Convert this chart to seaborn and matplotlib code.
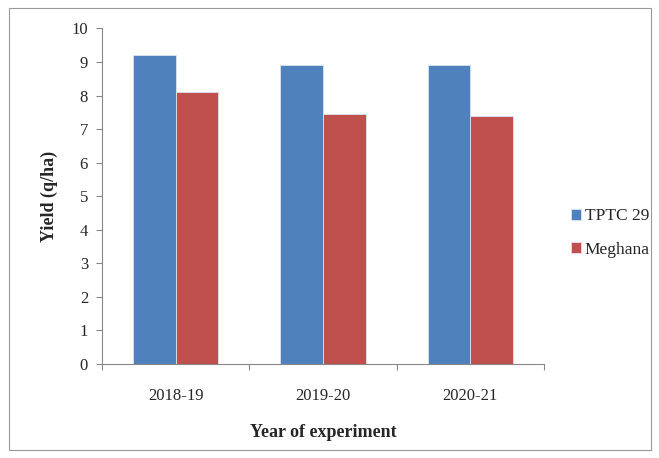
import matplotlib
matplotlib.use("Agg")
import matplotlib.pyplot as plt
import seaborn as sns
import pandas as pd
from matplotlib.patches import Rectangle

years = ["2018-19", "2019-20", "2020-21"]
tptc29 = [9.2, 8.9, 8.9]
meghana = [8.1, 7.45, 7.4]
varieties = ["TPTC 29", "Meghana"]
colors = ["#4F81BD", "#C0504D"]

df = pd.DataFrame({
    "Year": years * 2,
    "Yield": tptc29 + meghana,
    "Variety": [varieties[0]] * 3 + [varieties[1]] * 3,
})

sns.set_style("white")
plt.rcParams["font.family"] = ["Liberation Serif", "DejaVu Serif"]

fig = plt.figure(figsize=(6.59, 4.58), dpi=100)
ax = fig.add_axes([102 / 659, 1 - 364 / 458, (544 - 102) / 659, (364 - 28.5) / 458])

sns.barplot(data=df, x="Year", y="Yield", hue="Variety", palette=colors,
            saturation=1, width=0.58, ax=ax, edgecolor="#dbe4f0",
            linewidth=0.6, legend=True)

ax.set_ylim(0, 10)
ax.set_xlim(-0.5, 2.5)
ax.set_yticks(range(0, 11))
ax.tick_params(axis="y", labelsize=12, length=4, width=0.8, color="#888888",
               direction="out", left=True, pad=6)
ax.set_xticks([0, 1, 2])
ax.set_xticks([-0.5, 0.5, 1.5, 2.5], minor=True)
ax.tick_params(axis="x", which="major", length=0, labelsize=12, pad=17)
ax.tick_params(axis="x", which="minor", length=4, width=0.8, color="#888888",
               direction="out", bottom=True)

for s in ["top", "right"]:
    ax.spines[s].set_visible(False)
for s in ["left", "bottom"]:
    ax.spines[s].set_color("#888888")
    ax.spines[s].set_linewidth(0.8)

ax.set_xlabel("Year of experiment", fontsize=13, fontweight="bold", labelpad=15)
ax.set_ylabel("Yield (q/ha)", fontsize=13, fontweight="bold", labelpad=10)

leg = ax.legend(loc="center left", bbox_to_anchor=(1.025, 0.39), frameon=False,
                fontsize=12.5, handlelength=0.6, handleheight=0.6,
                handletextpad=0.2, labelspacing=1.0)

# outer frame around the chart area
fig.patches.append(Rectangle((9 / 659, 8 / 458), 642 / 659, 442 / 458,
                             transform=fig.transFigure, fill=False,
                             edgecolor="#999999", linewidth=0.8))

fig.savefig("out.png", dpi=100)
